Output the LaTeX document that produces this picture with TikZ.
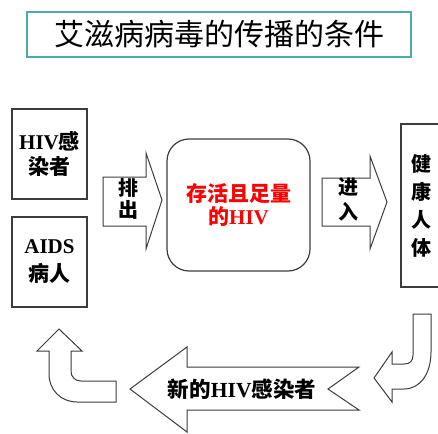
\documentclass[tikz,border=0pt]{standalone}
\usepackage{fontspec}
\setmainfont{Liberation Serif}
\newfontfamily\cjk{Noto Sans CJK SC}
\newcommand\zh[1]{{\cjk #1}}
\definecolor{titleteal}{RGB}{75,172,170}
\definecolor{lineg}{RGB}{60,60,60}
\begin{document}
\begin{tikzpicture}[x=1pt,y=-1pt,
  frame/.style={draw=lineg, line width=1.2pt, inner sep=0pt},
  blockarrow/.style={draw=lineg, line width=1pt, fill=white, line join=miter},
  lbl/.style={inner sep=0pt, align=center, font=\bfseries}]
\useasboundingbox (0,0) rectangle (438,433);

% title
\node[draw=titleteal, line width=1.4pt, minimum width=384pt, minimum height=45pt, inner sep=0pt,
      font=\fontsize{30}{32}\selectfont\cjk] (title) at (219,34.5) {艾滋病病毒的传播的条件};

% left boxes
\node[frame, minimum width=75pt, minimum height=90pt, align=center,
      font=\fontsize{21}{25}\selectfont\bfseries] (hiv) at (49.5,154) {HIV\zh{感}\\\zh{染者}};
\node[frame, minimum width=75pt, minimum height=90pt, align=center,
      font=\fontsize{21}{28}\selectfont\bfseries] (aids) at (49.5,262) {AIDS\\\zh{病人}};

% central rounded box
\node[frame, rounded corners=22pt, minimum width=143pt, minimum height=132pt, align=center,
      text=red, font=\fontsize{21}{23}\selectfont\bfseries] (virus) at (238.5,205) {\zh{存活且足量}\\\zh{的}HIV};

% healthy body box
\node[frame, minimum width=40pt, minimum height=163pt, align=center,
      font=\fontsize{20}{28}\selectfont\bfseries] (body) at (421,205.5) {\zh{健}\\\zh{康}\\\zh{人}\\\zh{体}};

% arrow 排出
\draw[blockarrow] (103,177) -- (146,177) -- (146,153) -- (162,200) -- (146,249) -- (146,226) -- (103,226) -- cycle;
\node[lbl, font=\fontsize{20}{22}\selectfont\bfseries\cjk] (out) at (128,199) {排\\出};

% arrow 进入
\draw[blockarrow] (322,178) -- (370,178) -- (370,156) -- (387,202) -- (370,249) -- (370,226) -- (322,226) -- cycle;
\node[lbl, font=\fontsize{20}{25}\selectfont\bfseries\cjk] (in) at (348,199.5) {进\\入};

% right hook arrow
\draw[blockarrow] (413,314) -- (431,314) -- (431,352)
  .. controls (431,374) and (420,389) .. (404,389) -- (392,389) -- (392,402) -- (374,378) -- (392,352) -- (392,364)
  -- (404,364) .. controls (410,364) and (413,361) .. (413,355) -- cycle;

% big left arrow
\draw[blockarrow] (130,389) -- (187,347) -- (187,367) -- (359,367) -- (328,389) -- (359,410) -- (187,410) -- (187,432) -- cycle;
\node[lbl, font=\fontsize{21.5}{23}\selectfont\bfseries] (newinf) at (242,389) {\zh{新的}HIV\zh{感染者}};

% left U arrow
\draw[blockarrow] (59,329) -- (82,351) -- (71,351) -- (71,371)
  .. controls (71,377) and (75,381) .. (81,381) -- (116,381) -- (116,402) -- (77,402)
  .. controls (61,402) and (49,390) .. (49,374) -- (49,351) -- (37,351) -- cycle;
\end{tikzpicture}
\end{document}
